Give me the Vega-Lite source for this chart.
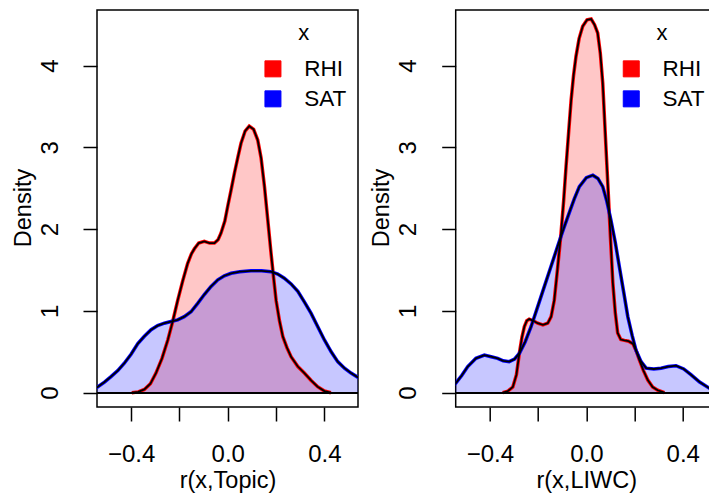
{
  "$schema": "https://vega.github.io/schema/vega-lite/v6.json",
  "padding": {"left": 10, "top": 9, "right": 0, "bottom": 0},
  "background": "white",
  "config": {
    "font": "Liberation Sans",
    "view": {"stroke": "black", "strokeWidth": 1.5},
    "axis": {"grid": false, "domain": false, "tickColor": "black", "tickWidth": 1.5, "tickSize": 14, "labelColor": "black", "labelFontSize": 24, "titleColor": "black", "titleFontSize": 23.5, "titleFontWeight": "normal", "labelOverlap": false, "labelFlush": false}
  },
  "datasets": {
    "topic": [
      {"x": -0.397, "d": 0, "group": "RHI"}, {"x": -0.37, "d": 0.01, "group": "RHI"}, {"x": -0.345, "d": 0.04, "group": "RHI"}, {"x": -0.32, "d": 0.11, "group": "RHI"}, {"x": -0.297, "d": 0.24, "group": "RHI"}, {"x": -0.272, "d": 0.42, "group": "RHI"}, {"x": -0.248, "d": 0.645, "group": "RHI"}, {"x": -0.227, "d": 0.88, "group": "RHI"}, {"x": -0.207, "d": 1.13, "group": "RHI"}, {"x": -0.186, "d": 1.37, "group": "RHI"}, {"x": -0.166, "d": 1.58, "group": "RHI"}, {"x": -0.15, "d": 1.7, "group": "RHI"}, {"x": -0.138, "d": 1.76, "group": "RHI"}, {"x": -0.12, "d": 1.83, "group": "RHI"}, {"x": -0.097, "d": 1.85, "group": "RHI"}, {"x": -0.075, "d": 1.83, "group": "RHI"}, {"x": -0.055, "d": 1.83, "group": "RHI"}, {"x": -0.04, "d": 1.87, "group": "RHI"}, {"x": -0.028, "d": 1.95, "group": "RHI"}, {"x": -0.012, "d": 2.1, "group": "RHI"}, {"x": 0, "d": 2.28, "group": "RHI"}, {"x": 0.014, "d": 2.48, "group": "RHI"}, {"x": 0.028, "d": 2.69, "group": "RHI"}, {"x": 0.042, "d": 2.88, "group": "RHI"}, {"x": 0.055, "d": 3.05, "group": "RHI"}, {"x": 0.072, "d": 3.2, "group": "RHI"}, {"x": 0.089, "d": 3.26, "group": "RHI"}, {"x": 0.107, "d": 3.22, "group": "RHI"}, {"x": 0.124, "d": 3.09, "group": "RHI"}, {"x": 0.138, "d": 2.87, "group": "RHI"}, {"x": 0.152, "d": 2.52, "group": "RHI"}, {"x": 0.165, "d": 2.13, "group": "RHI"}, {"x": 0.179, "d": 1.71, "group": "RHI"}, {"x": 0.19, "d": 1.4, "group": "RHI"}, {"x": 0.2, "d": 1.13, "group": "RHI"}, {"x": 0.214, "d": 0.88, "group": "RHI"}, {"x": 0.228, "d": 0.685, "group": "RHI"}, {"x": 0.245, "d": 0.55, "group": "RHI"}, {"x": 0.262, "d": 0.44, "group": "RHI"}, {"x": 0.29, "d": 0.32, "group": "RHI"}, {"x": 0.317, "d": 0.24, "group": "RHI"}, {"x": 0.345, "d": 0.15, "group": "RHI"}, {"x": 0.372, "d": 0.073, "group": "RHI"}, {"x": 0.4, "d": 0.02, "group": "RHI"}, {"x": 0.427, "d": 0, "group": "RHI"},
      {"x": -0.56, "d": 0.05, "group": "SAT"}, {"x": -0.541, "d": 0.065, "group": "SAT"}, {"x": -0.51, "d": 0.13, "group": "SAT"}, {"x": -0.483, "d": 0.196, "group": "SAT"}, {"x": -0.455, "d": 0.27, "group": "SAT"}, {"x": -0.428, "d": 0.36, "group": "SAT"}, {"x": -0.4, "d": 0.47, "group": "SAT"}, {"x": -0.372, "d": 0.6, "group": "SAT"}, {"x": -0.345, "d": 0.69, "group": "SAT"}, {"x": -0.317, "d": 0.77, "group": "SAT"}, {"x": -0.29, "d": 0.82, "group": "SAT"}, {"x": -0.262, "d": 0.85, "group": "SAT"}, {"x": -0.235, "d": 0.87, "group": "SAT"}, {"x": -0.207, "d": 0.89, "group": "SAT"}, {"x": -0.18, "d": 0.93, "group": "SAT"}, {"x": -0.152, "d": 0.99, "group": "SAT"}, {"x": -0.125, "d": 1.09, "group": "SAT"}, {"x": -0.097, "d": 1.2, "group": "SAT"}, {"x": -0.069, "d": 1.3, "group": "SAT"}, {"x": -0.041, "d": 1.38, "group": "SAT"}, {"x": -0.014, "d": 1.43, "group": "SAT"}, {"x": 0.014, "d": 1.46, "group": "SAT"}, {"x": 0.05, "d": 1.48, "group": "SAT"}, {"x": 0.096, "d": 1.49, "group": "SAT"}, {"x": 0.14, "d": 1.49, "group": "SAT"}, {"x": 0.179, "d": 1.48, "group": "SAT"}, {"x": 0.207, "d": 1.45, "group": "SAT"}, {"x": 0.234, "d": 1.4, "group": "SAT"}, {"x": 0.262, "d": 1.33, "group": "SAT"}, {"x": 0.29, "d": 1.24, "group": "SAT"}, {"x": 0.317, "d": 1.11, "group": "SAT"}, {"x": 0.345, "d": 0.97, "group": "SAT"}, {"x": 0.372, "d": 0.81, "group": "SAT"}, {"x": 0.4, "d": 0.645, "group": "SAT"}, {"x": 0.428, "d": 0.5, "group": "SAT"}, {"x": 0.455, "d": 0.38, "group": "SAT"}, {"x": 0.483, "d": 0.3, "group": "SAT"}, {"x": 0.51, "d": 0.24, "group": "SAT"}, {"x": 0.543, "d": 0.18, "group": "SAT"}, {"x": 0.56, "d": 0.15, "group": "SAT"}
    ],
    "liwc": [
      {"x": -0.347, "d": 0, "group": "RHI"}, {"x": -0.325, "d": 0.02, "group": "RHI"}, {"x": -0.305, "d": 0.07, "group": "RHI"}, {"x": -0.29, "d": 0.22, "group": "RHI"}, {"x": -0.278, "d": 0.48, "group": "RHI"}, {"x": -0.267, "d": 0.68, "group": "RHI"}, {"x": -0.257, "d": 0.81, "group": "RHI"}, {"x": -0.247, "d": 0.88, "group": "RHI"}, {"x": -0.237, "d": 0.9, "group": "RHI"}, {"x": -0.22, "d": 0.88, "group": "RHI"}, {"x": -0.202, "d": 0.85, "group": "RHI"}, {"x": -0.18, "d": 0.83, "group": "RHI"}, {"x": -0.16, "d": 0.85, "group": "RHI"}, {"x": -0.146, "d": 0.93, "group": "RHI"}, {"x": -0.133, "d": 1.13, "group": "RHI"}, {"x": -0.12, "d": 1.5, "group": "RHI"}, {"x": -0.105, "d": 1.95, "group": "RHI"}, {"x": -0.094, "d": 2.35, "group": "RHI"}, {"x": -0.084, "d": 2.77, "group": "RHI"}, {"x": -0.073, "d": 3.2, "group": "RHI"}, {"x": -0.063, "d": 3.58, "group": "RHI"}, {"x": -0.053, "d": 3.88, "group": "RHI"}, {"x": -0.043, "d": 4.11, "group": "RHI"}, {"x": -0.03, "d": 4.33, "group": "RHI"}, {"x": -0.015, "d": 4.48, "group": "RHI"}, {"x": 0.003, "d": 4.56, "group": "RHI"}, {"x": 0.02, "d": 4.57, "group": "RHI"}, {"x": 0.034, "d": 4.5, "group": "RHI"}, {"x": 0.047, "d": 4.4, "group": "RHI"}, {"x": 0.058, "d": 4.15, "group": "RHI"}, {"x": 0.068, "d": 3.79, "group": "RHI"}, {"x": 0.078, "d": 3.2, "group": "RHI"}, {"x": 0.089, "d": 2.56, "group": "RHI"}, {"x": 0.1, "d": 1.9, "group": "RHI"}, {"x": 0.11, "d": 1.34, "group": "RHI"}, {"x": 0.12, "d": 0.98, "group": "RHI"}, {"x": 0.13, "d": 0.73, "group": "RHI"}, {"x": 0.143, "d": 0.65, "group": "RHI"}, {"x": 0.158, "d": 0.64, "group": "RHI"}, {"x": 0.175, "d": 0.63, "group": "RHI"}, {"x": 0.193, "d": 0.6, "group": "RHI"}, {"x": 0.207, "d": 0.51, "group": "RHI"}, {"x": 0.22, "d": 0.4, "group": "RHI"}, {"x": 0.237, "d": 0.27, "group": "RHI"}, {"x": 0.255, "d": 0.155, "group": "RHI"}, {"x": 0.275, "d": 0.07, "group": "RHI"}, {"x": 0.296, "d": 0.03, "group": "RHI"}, {"x": 0.324, "d": 0, "group": "RHI"},
      {"x": -0.56, "d": 0.07, "group": "SAT"}, {"x": -0.542, "d": 0.115, "group": "SAT"}, {"x": -0.517, "d": 0.21, "group": "SAT"}, {"x": -0.492, "d": 0.32, "group": "SAT"}, {"x": -0.458, "d": 0.42, "group": "SAT"}, {"x": -0.423, "d": 0.46, "group": "SAT"}, {"x": -0.395, "d": 0.44, "group": "SAT"}, {"x": -0.368, "d": 0.42, "group": "SAT"}, {"x": -0.345, "d": 0.39, "group": "SAT"}, {"x": -0.32, "d": 0.38, "group": "SAT"}, {"x": -0.298, "d": 0.41, "group": "SAT"}, {"x": -0.278, "d": 0.48, "group": "SAT"}, {"x": -0.254, "d": 0.62, "group": "SAT"}, {"x": -0.229, "d": 0.81, "group": "SAT"}, {"x": -0.202, "d": 1.05, "group": "SAT"}, {"x": -0.174, "d": 1.3, "group": "SAT"}, {"x": -0.146, "d": 1.55, "group": "SAT"}, {"x": -0.119, "d": 1.79, "group": "SAT"}, {"x": -0.095, "d": 2.0, "group": "SAT"}, {"x": -0.071, "d": 2.2, "group": "SAT"}, {"x": -0.05, "d": 2.37, "group": "SAT"}, {"x": -0.029, "d": 2.52, "group": "SAT"}, {"x": 0, "d": 2.63, "group": "SAT"}, {"x": 0.027, "d": 2.66, "group": "SAT"}, {"x": 0.048, "d": 2.62, "group": "SAT"}, {"x": 0.068, "d": 2.52, "group": "SAT"}, {"x": 0.085, "d": 2.34, "group": "SAT"}, {"x": 0.102, "d": 2.11, "group": "SAT"}, {"x": 0.12, "d": 1.84, "group": "SAT"}, {"x": 0.137, "d": 1.54, "group": "SAT"}, {"x": 0.155, "d": 1.23, "group": "SAT"}, {"x": 0.172, "d": 0.93, "group": "SAT"}, {"x": 0.19, "d": 0.7, "group": "SAT"}, {"x": 0.206, "d": 0.52, "group": "SAT"}, {"x": 0.227, "d": 0.38, "group": "SAT"}, {"x": 0.248, "d": 0.3, "group": "SAT"}, {"x": 0.28, "d": 0.29, "group": "SAT"}, {"x": 0.31, "d": 0.3, "group": "SAT"}, {"x": 0.34, "d": 0.32, "group": "SAT"}, {"x": 0.372, "d": 0.33, "group": "SAT"}, {"x": 0.404, "d": 0.29, "group": "SAT"}, {"x": 0.434, "d": 0.22, "group": "SAT"}, {"x": 0.47, "d": 0.13, "group": "SAT"}, {"x": 0.513, "d": 0.05, "group": "SAT"}, {"x": 0.54, "d": 0.03, "group": "SAT"}
    ]
  },
  "bounds": "flush",
  "spacing": 97.7,
  "resolve": {"scale": {"fill": "independent", "stroke": "independent", "x": "independent", "y": "independent"}, "legend": {"fill": "independent"}},
  "hconcat": [
    {
      "data": {"name": "topic"},
      "width": 261,
      "height": 397,
      "encoding": {
        "x": {"field": "x", "type": "quantitative", "scale": {"domain": [-0.541, 0.539], "nice": false, "zero": false}, "axis": {"title": "r(x,Topic)", "values": [-0.4, -0.2, 0, 0.2, 0.4], "labelExpr": "datum.value == 0 ? '0.0' : (abs(datum.value) > 0.3 ? format(datum.value, '.1f') : '')", "labelPadding": 21, "titleX": 130.5, "titleY": 80.5, "titleBaseline": "alphabetic", "titleAnchor": null}},
        "y": {"field": "d", "type": "quantitative", "stack": null, "scale": {"domain": [-0.175, 4.68], "nice": false, "zero": false}, "axis": {"title": "Density", "values": [0, 1, 2, 3, 4], "labelAngle": 270, "labelAlign": "center", "labelBaseline": "alphabetic", "labelPadding": 26, "titleAngle": 270, "titleX": -67, "titleY": 197.5, "titleAlign": "center", "titleBaseline": "alphabetic"}}
      },
      "layer": [
        {"mark": {"type": "area", "fillOpacity": 0.22, "stroke": "black", "strokeWidth": 1, "clip": true}, "encoding": {"fill": {"field": "group", "type": "nominal", "scale": {"domain": ["RHI", "SAT"], "range": ["#FF0000", "#0000FF"]}, "legend": {"title": "x", "orient": "none", "legendX": 164.7, "legendY": 12.6, "padding": 0, "symbolType": "square", "symbolSize": 256, "symbolStrokeColor": "black", "symbolStrokeWidth": 1, "symbolOpacity": 1, "labelFontSize": 22.5, "labelColor": "black", "titleFontSize": 22, "titleColor": "black", "titleFontWeight": "normal", "titleAnchor": "middle", "titlePadding": 13, "rowPadding": 7, "labelOffset": 20}}}},
        {"mark": {"type": "line", "strokeWidth": 3.5, "clip": true}, "encoding": {"stroke": {"field": "group", "type": "nominal", "scale": {"domain": ["RHI", "SAT"], "range": ["#FF0000", "#0000FF"]}, "legend": null}}},
        {"mark": {"type": "line", "strokeWidth": 1.8, "color": "black", "clip": true}, "encoding": {"detail": {"field": "group"}}},
        {"mark": {"type": "rule", "color": "black", "strokeWidth": 1.5}, "encoding": {"y": {"datum": 0}, "x": null}}
      ]
    },
    {
      "data": {"name": "liwc"},
      "width": 255,
      "height": 397,
      "encoding": {
        "x": {"field": "x", "type": "quantitative", "scale": {"domain": [-0.542, 0.516], "nice": false, "zero": false}, "axis": {"title": "r(x,LIWC)", "values": [-0.4, -0.2, 0, 0.2, 0.4], "labelExpr": "datum.value == 0 ? '0.0' : (abs(datum.value) > 0.3 ? format(datum.value, '.1f') : '')", "labelPadding": 21, "titleX": 130.5, "titleY": 80.5, "titleBaseline": "alphabetic", "titleAnchor": null}},
        "y": {"field": "d", "type": "quantitative", "stack": null, "scale": {"domain": [-0.175, 4.68], "nice": false, "zero": false}, "axis": {"title": "Density", "values": [0, 1, 2, 3, 4], "labelAngle": 270, "labelAlign": "center", "labelBaseline": "alphabetic", "labelPadding": 26, "titleAngle": 270, "titleX": -67, "titleY": 197.5, "titleAlign": "center", "titleBaseline": "alphabetic"}}
      },
      "layer": [
        {"mark": {"type": "area", "fillOpacity": 0.22, "stroke": "black", "strokeWidth": 1, "clip": true}, "encoding": {"fill": {"field": "group", "type": "nominal", "scale": {"domain": ["RHI", "SAT"], "range": ["#FF0000", "#0000FF"]}, "legend": {"title": "x", "orient": "none", "legendX": 164.3, "legendY": 12.6, "padding": 0, "symbolType": "square", "symbolSize": 256, "symbolStrokeColor": "black", "symbolStrokeWidth": 1, "symbolOpacity": 1, "labelFontSize": 22.5, "labelColor": "black", "titleFontSize": 22, "titleColor": "black", "titleFontWeight": "normal", "titleAnchor": "middle", "titlePadding": 13, "rowPadding": 7, "labelOffset": 20}}}},
        {"mark": {"type": "line", "strokeWidth": 3.5, "clip": true}, "encoding": {"stroke": {"field": "group", "type": "nominal", "scale": {"domain": ["RHI", "SAT"], "range": ["#FF0000", "#0000FF"]}, "legend": null}}},
        {"mark": {"type": "line", "strokeWidth": 1.8, "color": "black", "clip": true}, "encoding": {"detail": {"field": "group"}}},
        {"mark": {"type": "rule", "color": "black", "strokeWidth": 1.5}, "encoding": {"y": {"datum": 0}, "x": null}}
      ]
    }
  ]
}
